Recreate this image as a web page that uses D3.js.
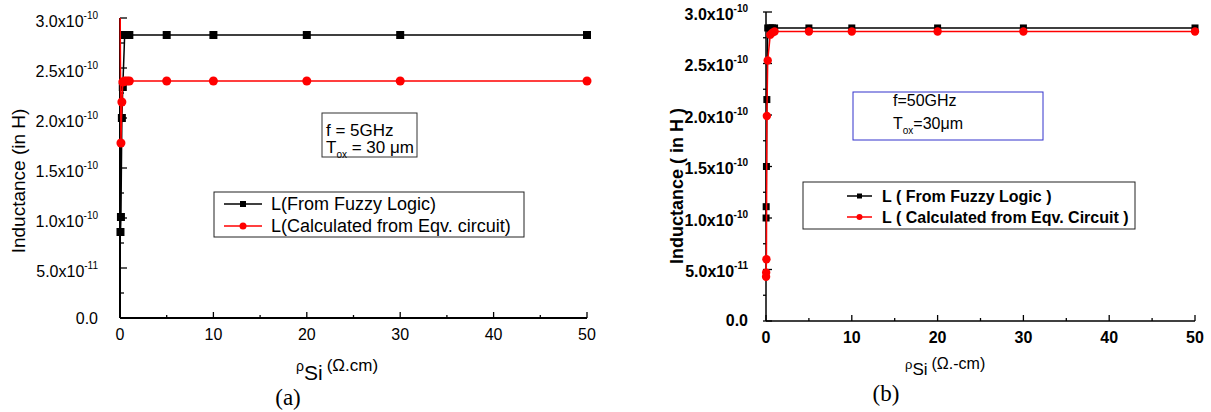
<!DOCTYPE html>
<html>
<head>
<meta charset="utf-8">
<script src="https://cdn.jsdelivr.net/npm/d3@7"></script>
<style>
  body { margin: 0; background: #fff; }
  svg { display: block; font-family: "Liberation Sans", Arial, sans-serif; }
</style>
</head>
<body>
<svg id="chart" width="1211" height="412"></svg>
<script>
// panel (a): f = 5GHz
const rhoFuzzyA = [0.05, 0.1, 0.2, 0.3, 0.5, 0.75, 1, 5, 10, 20, 30, 50];
const fuzzyA = [0.86e-10, 1.01e-10, 2.0e-10, 2.31e-10, 2.83e-10, 2.83e-10, 2.83e-10, 2.83e-10, 2.83e-10, 2.83e-10, 2.83e-10, 2.83e-10];
const rhoCircuitA = [0.01, 0.1, 0.2, 0.3, 0.5, 0.75, 1, 5, 10, 20, 30, 50];
const circuitA = [3.2e-10, 1.75e-10, 2.16e-10, 2.36e-10, 2.37e-10, 2.37e-10, 2.37e-10, 2.37e-10, 2.37e-10, 2.37e-10, 2.37e-10, 2.37e-10];

// panel (b): f = 50GHz
const rhoB = [0.01, 0.02, 0.05, 0.1, 0.2, 0.5, 0.75, 1, 5, 10, 20, 30, 50];
const fuzzyB = [1.0e-10, 1.11e-10, 1.5e-10, 2.15e-10, 2.845e-10, 2.845e-10, 2.845e-10, 2.845e-10, 2.845e-10, 2.845e-10, 2.845e-10, 2.845e-10, 2.845e-10];
const circuitB = [0.43e-10, 0.47e-10, 0.6e-10, 1.99e-10, 2.53e-10, 2.78e-10, 2.8e-10, 2.81e-10, 2.81e-10, 2.81e-10, 2.81e-10, 2.81e-10, 2.81e-10];

// axes
const xTicks = [0, 10, 20, 30, 40, 50];
const xMinor = [5, 15, 25, 35, 45];
const yTicks = [0, 0.5e-10, 1.0e-10, 1.5e-10, 2.0e-10, 2.5e-10, 3.0e-10];
const yMinor = [0.25e-10, 0.75e-10, 1.25e-10, 1.75e-10, 2.25e-10, 2.75e-10];
const yTickBase = ["0.0", "5.0x10", "1.0x10", "1.5x10", "2.0x10", "2.5x10", "3.0x10"];
const yTickExp = ["", "-11", "-10", "-10", "-10", "-10", "-10"];

const svg = d3.select("#chart");
svg.append("rect").attr("width", 1211).attr("height", 412).attr("fill", "#fff");

function drawPanel(p) {
    const x = d3.scaleLinear().domain([0, 50]).range([p.left, p.right]);
    const y = d3.scaleLinear().domain([0, 3e-10]).range([p.bottom, p.top]);
    const g = svg.append("g");
    const fw = p.bold ? "bold" : "normal";

    g.append("clipPath").attr("id", "clip" + p.id)
        .append("rect").attr("x", p.left - 6).attr("y", p.top)
        .attr("width", p.right - p.left + 12).attr("height", p.bottom - p.top);

    // x axis
    g.append("line").attr("x1", p.left).attr("x2", p.right)
        .attr("y1", p.bottom).attr("y2", p.bottom)
        .attr("stroke", "#000").attr("stroke-width", p.axisW);
    g.selectAll(".xt").data(xTicks).enter().append("line")
        .attr("x1", d => x(d)).attr("x2", d => x(d))
        .attr("y1", p.bottom).attr("y2", p.bottom - 6)
        .attr("stroke", "#000").attr("stroke-width", 1.3);
    g.selectAll(".xm").data(xMinor).enter().append("line")
        .attr("x1", d => x(d)).attr("x2", d => x(d))
        .attr("y1", p.bottom).attr("y2", p.bottom - 3)
        .attr("stroke", "#000").attr("stroke-width", 1.3);
    g.selectAll(".xl").data(xTicks).enter().append("text")
        .attr("x", d => x(d)).attr("y", p.bottom + 22)
        .attr("text-anchor", "middle").attr("font-size", 16).attr("font-weight", fw)
        .text(d => d);

    // y axis
    g.append("line").attr("x1", p.left).attr("x2", p.left)
        .attr("y1", p.top).attr("y2", p.bottom)
        .attr("stroke", "#000").attr("stroke-width", p.axisW);
    g.selectAll(".yt").data(yTicks).enter().append("line")
        .attr("x1", p.left + p.majIn).attr("x2", p.left - p.majOut)
        .attr("y1", d => y(d)).attr("y2", d => y(d))
        .attr("stroke", "#000").attr("stroke-width", 1.3);
    g.selectAll(".ym").data(yMinor).enter().append("line")
        .attr("x1", p.left + p.minIn).attr("x2", p.left - p.minOut)
        .attr("y1", d => y(d)).attr("y2", d => y(d))
        .attr("stroke", "#000").attr("stroke-width", 1.3);
    const yl = g.selectAll(".yl").data(yTicks).enter().append("text")
        .attr("x", p.left - p.labelGap)
        .attr("y", (d, i) => y(d) + (yTickExp[i] ? p.labelDy + 3 : p.labelDy))
        .attr("text-anchor", "end").attr("font-size", 16).attr("font-weight", fw);
    yl.append("tspan").text((d, i) => yTickBase[i]);
    yl.append("tspan").attr("font-size", 10).attr("dy", -8)
        .text((d, i) => yTickExp[i]);

    // y title
    g.append("text")
        .attr("transform", `translate(${p.yTitleX},${p.yTitleY}) rotate(-90)`)
        .attr("text-anchor", "middle").attr("font-size", p.yTitleSize).attr("font-weight", fw)
        .text(p.yTitle);

    // x title
    const xt = g.append("text").attr("x", p.xTitleX).attr("y", p.xTitleY);
    xt.append("tspan").attr("font-size", p.rhoSize).text("ρ");
    xt.append("tspan").attr("font-size", p.siSize).attr("dy", p.siDy).text("Si");
    xt.append("tspan").attr("font-size", p.unitSize).attr("dy", -p.siDy).attr("dx", 4).text(p.unit);

    g.append("text").attr("x", p.capX).attr("y", p.capY)
        .attr("text-anchor", "middle")
        .attr("font-family", "'Liberation Serif', 'Times New Roman', serif")
        .attr("font-size", 23).text(p.caption);

    // series
    const plot = g.append("g").attr("clip-path", `url(#clip${p.id})`);
    const line = d3.line().x(d => x(d[0])).y(d => y(d[1]));
    const black = d3.zip(p.rhoFuzzy, p.fuzzy);
    const red = d3.zip(p.rhoCircuit, p.circuit);

    plot.append("path").datum(black).attr("d", line)
        .attr("fill", "none").attr("stroke", "#000").attr("stroke-width", 1.5);
    plot.selectAll(".sq").data(black).enter().append("rect")
        .attr("x", d => x(d[0]) - p.sq / 2).attr("y", d => y(d[1]) - p.sq / 2)
        .attr("width", p.sq).attr("height", p.sq).attr("fill", "#000");
    plot.append("path").datum(red).attr("d", line)
        .attr("fill", "none").attr("stroke", "#ff0000").attr("stroke-width", 1.5);
    plot.selectAll(".ci").data(red).enter().append("circle")
        .attr("cx", d => x(d[0])).attr("cy", d => y(d[1]))
        .attr("r", p.cr).attr("fill", "#ff0000");

    // annotation box
    const a = p.note;
    g.append("rect").attr("x", a.x).attr("y", a.y).attr("width", a.w).attr("height", a.h)
        .attr("fill", "#fff").attr("stroke", a.stroke).attr("stroke-width", 1);
    g.append("text").attr("x", a.tx).attr("y", a.y1).attr("font-size", a.size).text(a.line1);
    const t2 = g.append("text").attr("x", a.tx).attr("y", a.y2).attr("font-size", a.size);
    t2.append("tspan").text("T");
    t2.append("tspan").attr("font-size", 10).attr("dy", 5).text("ox");
    t2.append("tspan").attr("dy", -5).text(a.line2);

    // legend
    const L = p.legend;
    g.append("rect").attr("x", L.x).attr("y", L.y).attr("width", L.w).attr("height", L.h)
        .attr("fill", "#fff").attr("stroke", "#222").attr("stroke-width", 1);
    const entries = [
        { label: L.labels[0], color: "#000", shape: "sq" },
        { label: L.labels[1], color: "#ff0000", shape: "ci" }
    ];
    entries.forEach((e, i) => {
        const cy = L.rowY[i];
        g.append("line").attr("x1", L.lx1).attr("x2", L.lx2).attr("y1", cy).attr("y2", cy)
            .attr("stroke", e.color).attr("stroke-width", 1.5);
        const mx = (L.lx1 + L.lx2) / 2;
        if (e.shape === "sq") {
            g.append("rect").attr("x", mx - L.sq / 2).attr("y", cy - L.sq / 2)
                .attr("width", L.sq).attr("height", L.sq).attr("fill", e.color);
        } else {
            g.append("circle").attr("cx", mx).attr("cy", cy).attr("r", L.cr).attr("fill", e.color);
        }
        g.append("text").attr("x", L.tx).attr("y", cy + 6)
            .attr("font-size", L.size).attr("font-weight", fw).text(e.label);
    });
}

drawPanel({
    id: "a", left: 120, right: 587, top: 18, bottom: 318, axisW: 2, bold: false,
    majIn: 7, majOut: 0, minIn: 4, minOut: 0, labelGap: 22, labelDy: 5.5,
    yTitle: "Inductance (in H)", yTitleX: 25, yTitleY: 181, yTitleSize: 19,
    xTitleX: 296, xTitleY: 371, rhoSize: 14, siSize: 21, siDy: 9, unitSize: 17, unit: "(Ω.cm)",
    capX: 288, capY: 405, caption: "(a)",
    rhoFuzzy: rhoFuzzyA, fuzzy: fuzzyA, rhoCircuit: rhoCircuitA, circuit: circuitA,
    sq: 8, cr: 4.5,
    note: { x: 322, y: 113, w: 95, h: 44, stroke: "#333", tx: 326, y1: 136, y2: 153, size: 17,
            line1: "f = 5GHz", line2: " = 30 μm" },
    legend: { x: 214, y: 192, w: 310, h: 45, rowY: [204, 226], lx1: 224, lx2: 262, tx: 271,
              size: 18, sq: 6, cr: 3.5,
              labels: ["L(From Fuzzy Logic)", "L(Calculated from Eqv. circuit)"] }
});

drawPanel({
    id: "b", left: 766, right: 1195, top: 12, bottom: 321, axisW: 1.5, bold: true,
    majIn: 6, majOut: 3, minIn: 0, minOut: 3, labelGap: 18, labelDy: 4.5,
    yTitle: "Inductance ( in H )", yTitleX: 683, yTitleY: 186, yTitleSize: 18,
    xTitleX: 905, xTitleY: 369, rhoSize: 13, siSize: 17, siDy: 6, unitSize: 16, unit: "(Ω.-cm)",
    capX: 886, capY: 401, caption: "(b)",
    rhoFuzzy: rhoB, fuzzy: fuzzyB, rhoCircuit: rhoB, circuit: circuitB,
    sq: 7, cr: 4.2,
    note: { x: 853, y: 92, w: 190, h: 48, stroke: "#3333cc", tx: 893, y1: 106, y2: 129, size: 16,
            line1: "f=50GHz", line2: "=30μm" },
    legend: { x: 803, y: 182, w: 332, h: 47, rowY: [196, 217], lx1: 847, lx2: 872, tx: 882,
              size: 16, sq: 5, cr: 3,
              labels: ["L ( From Fuzzy Logic )", "L ( Calculated from Eqv. Circuit )"] }
});
</script>
</body>
</html>
